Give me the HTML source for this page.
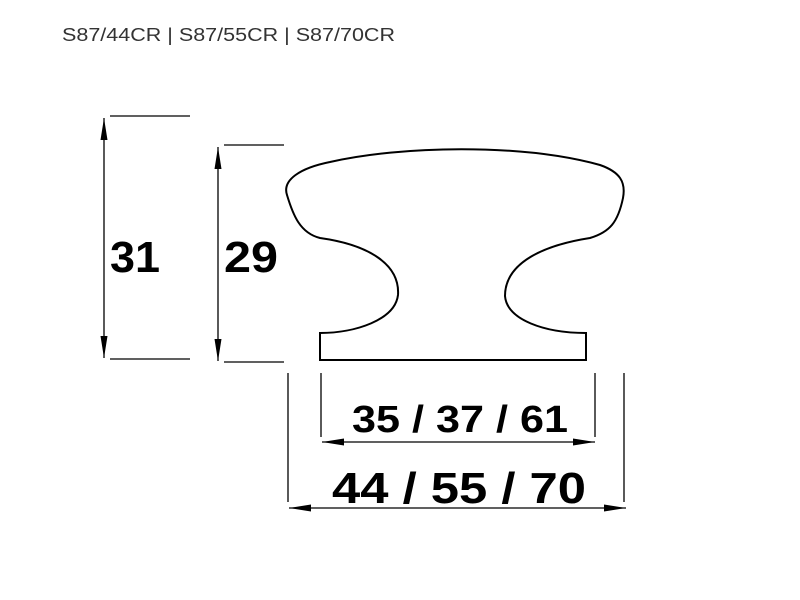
<!DOCTYPE html>
<html><head><style>html,body{margin:0;padding:0;background:#fff}svg{display:block}</style></head>
<body>
<svg width="800" height="600" viewBox="0 0 800 600" xmlns="http://www.w3.org/2000/svg">
<defs>
<marker id="a" viewBox="0 0 22 7" refX="22" refY="3.5" markerWidth="22" markerHeight="7" markerUnits="userSpaceOnUse" orient="auto-start-reverse"><path d="M0,0 L22,3.5 L0,7 Z" fill="#000"/></marker>
</defs>
<text x="62" y="41" font-family="Liberation Sans, sans-serif" font-size="18" fill="#333" textLength="333" lengthAdjust="spacingAndGlyphs">S87/44CR | S87/55CR | S87/70CR</text>
<g stroke="#000" stroke-width="1.3" fill="none">
<line x1="110" y1="116" x2="190" y2="116"/><line x1="110" y1="359" x2="190" y2="359"/>
<line x1="104" y1="118" x2="104" y2="358" marker-start="url(#a)" marker-end="url(#a)"/>
<line x1="224" y1="145" x2="284" y2="145"/><line x1="224" y1="362" x2="284" y2="362"/>
<line x1="218" y1="147" x2="218" y2="361" marker-start="url(#a)" marker-end="url(#a)"/>
<line x1="321" y1="373" x2="321" y2="437"/><line x1="595" y1="373" x2="595" y2="437"/>
<line x1="288" y1="373" x2="288" y2="502"/><line x1="624" y1="373" x2="624" y2="502"/>
<line x1="322" y1="442" x2="595" y2="442" marker-start="url(#a)" marker-end="url(#a)"/>
<line x1="289" y1="508" x2="626" y2="508" marker-start="url(#a)" marker-end="url(#a)"/>
<path stroke-width="2" d="M320,333 C355,333 395,320 398,295 C400,265 370,245 320,238 C300,233 293,215 287,195 C282,180 300,168 330,162 C400,146 520,143 600,165 C620,172 626,182 623,198 C618,222 610,232 590,238 C545,245 505,262 505,296 C507,320 545,333 586,333 L586,360 L320,360 Z"/>
</g>
<g font-family="Liberation Sans, sans-serif" font-weight="bold" fill="#000">
<text x="110" y="272" font-size="44" textLength="50" lengthAdjust="spacingAndGlyphs">31</text>
<text x="224" y="272" font-size="44" textLength="54" lengthAdjust="spacingAndGlyphs">29</text>
<text x="352" y="432" font-size="38" textLength="216" lengthAdjust="spacingAndGlyphs">35 / 37 / 61</text>
<text x="332" y="503" font-size="44" textLength="254" lengthAdjust="spacingAndGlyphs">44 / 55 / 70</text>
</g>
</svg>
</body></html>
